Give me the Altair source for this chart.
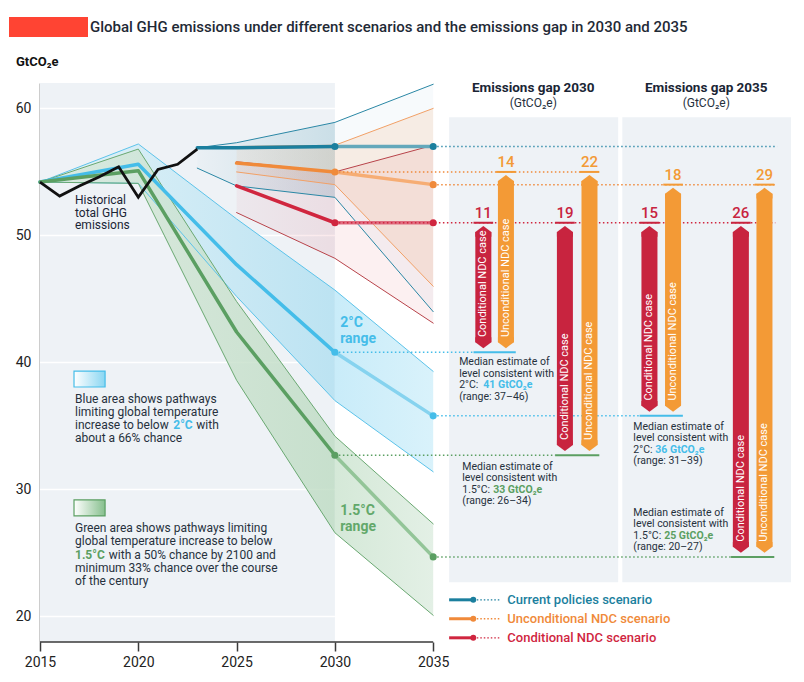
import altair as alt
import pandas as pd

# ---------------- data ----------------
hist_years = [2015, 2016, 2017, 2018, 2019, 2020, 2021, 2022, 2023]
hist_values = [54.2, 53.1, 53.9, 54.6, 55.4, 53.0, 55.2, 55.6, 56.8]

path_years = [2015, 2020, 2025, 2030, 2035]
c2_low = [54.2, 54.1, 45.2, 37.0, 31.4]
c2_median = [54.2, 55.6, 47.7, 40.8, 35.8]
c2_high = [54.2, 57.2, 51.3, 45.7, 39.3]
c15_low = [54.2, 54.1, 38.6, 26.6, 20.1]
c15_median = [54.2, 55.1, 42.4, 32.7, 24.7]
c15_high = [54.2, 56.8, 44.8, 34.2, 27.3]

cp_years = [2023, 2025, 2030, 2035]
cp_low = [55.3, 53.9, 53.0, 44.0]
cp_median = [56.9, 56.9, 57.0, 57.0]
cp_high = [56.9, 57.3, 58.9, 61.9]

ndc_years = [2025, 2030, 2035]
unc_low = [55.0, 54.0, 46.0]
unc_median = [55.7, 55.0, 54.0]
unc_high = [57.0, 57.1, 60.0]
con_low = [51.8, 48.2, 43.1]
con_median = [53.9, 51.0, 51.0]
con_high = [55.8, 55.0, 57.1]

gap_labels = ["11", "14", "19", "22", "15", "18", "26", "29"]
gap_cases = ["Conditional NDC case", "Unconditional NDC case"] * 4
gap_slots = [2037.55, 2038.7, 2041.7, 2042.95, 2046.0, 2047.2, 2050.65, 2051.85]

scenario_names = ["Current policies scenario", "Unconditional NDC scenario", "Conditional NDC scenario"]
axis_years = [2015, 2020, 2025, 2030, 2035]
axis_values = [20, 30, 40, 50, 60]

# ---------------- colours ----------------
TEAL, ORANGE, RED = "#1b7f9e", "#f08a3a", "#d0263f"
BLUE, GREEN = "#45bde9", "#5b9f62"
BAR_RED, BAR_ORANGE = "#c8243f", "#f39a36"
TXT = "#26313d"
BG = "#eef2f6"

# ---------------- scales / helpers ----------------
xs = alt.Scale(domain=[2015, 2053.2], nice=False, zero=False)
ys = alt.Scale(domain=[18, 62], nice=False, zero=False)
xax = alt.Axis(values=axis_years, format="d", grid=False, domain=False, tickSize=9,
               tickColor="#3a3a3a", tickWidth=1.5, labelFontSize=14, labelColor="#222",
               labelPadding=4, labelFlush=False, title=None)
yax = alt.Axis(values=axis_values, grid=False, ticks=False, domain=True, domainColor="#3a3a3a",
               domainWidth=1.5, labelFontSize=14, labelColor="#222", labelPadding=9, title=None)


def X(f):
    return alt.X(f, type="quantitative", scale=xs, axis=xax)


def Y(f):
    return alt.Y(f, type="quantitative", scale=ys, axis=yax)


def grad(c1, c2):
    return alt.Gradient(gradient="linear",
                        stops=[alt.GradientStop(color=c1, offset=0), alt.GradientStop(color=c2, offset=1)],
                        x1=0, x2=1, y1=0, y2=0)


def split(years, vals, cut=2030):
    a = [(x, v) for x, v in zip(years, vals) if x <= cut]
    b = [(x, v) for x, v in zip(years, vals) if x >= cut]
    return a, b


def band(years, lo, hi, fill, opacity=1.0):
    df = pd.DataFrame({"x": years, "lo": lo, "hi": hi})
    return alt.Chart(df).mark_area(color=fill, opacity=opacity).encode(
        x=X("x"), y=Y("lo"), y2=alt.Y2("hi"))


def band_parts(years, lo, hi, fa, fb, opacity=1.0):
    ya = [y for y in years if y <= 2030]
    yb = [y for y in years if y >= 2030]
    ia = [years.index(y) for y in ya]
    ib = [years.index(y) for y in yb]
    return [band(ya, [lo[i] for i in ia], [hi[i] for i in ia], fa, opacity),
            band(yb, [lo[i] for i in ib], [hi[i] for i in ib], fb, opacity)]


# ---------------- backgrounds ----------------
bg_df = pd.DataFrame({"x": [2015, 2035.81, 2044.62], "x2": [2030, 2044.41, 2053.2],
                      "y": [18, 22.7, 22.7], "y2": [62, 59.3, 59.3]})
bg = alt.Chart(bg_df).mark_rect(color=BG).encode(x=X("x"), x2="x2", y=Y("y"), y2="y2")

grid_df = pd.DataFrame({"y": axis_values, "x": 2015, "x2": 2030})
grid = alt.Chart(grid_df).mark_rule(color="white", strokeWidth=1.5).encode(x=X("x"), x2="x2", y=Y("y"))

xdomain = alt.Chart(pd.DataFrame({"x": [2015], "x2": [2035], "y": [18]})).mark_rule(
    color="#3a3a3a", strokeWidth=1.5).encode(x=X("x"), x2="x2", y=Y("y"))

# ---------------- bands ----------------
bands = []
bands += band_parts(path_years, c2_low, c2_high, grad("#e2f2f8", "#bce3f2"), grad("#c9ecf9", "#d9f2fb"))
bands += band_parts(path_years, c15_low, c15_high, grad("#d9e9dc", "#bddbc2"), grad("#cae3ce", "#dcecdf"), 0.8)
bands += band_parts(cp_years, cp_low, cp_high, grad("rgba(27,127,158,0.02)", "rgba(27,127,158,0.17)"),
                    "rgba(27,127,158,0.035)")
bands += band_parts(ndc_years, unc_low, unc_high, grad("rgba(240,138,58,0.07)", "rgba(240,138,58,0.15)"),
                    "rgba(240,138,58,0.12)")
bands += band_parts(ndc_years, con_low, con_high, grad("rgba(208,38,63,0.05)", "rgba(208,38,63,0.10)"),
                    "rgba(208,38,63,0.07)")

# ---------------- lines ----------------
rows = []


def add_line(name, years, vals, col, w):
    for x, v in zip(years, vals):
        rows.append({"id": name, "x": x, "y": v, "col": col, "w": w})


add_line("c2h", path_years, c2_high, "#5cc3ea", 1)
add_line("c2l", path_years, c2_low, "#5cc3ea", 1)
add_line("c15h", path_years, c15_high, "#6aa872", 1)
add_line("c15l", path_years, c15_low, "#6aa872", 1)
add_line("cph", cp_years, cp_high, "#2a87a5", 1)
add_line("cpl", cp_years, cp_low, "#2a87a5", 1)
add_line("unh", ndc_years, unc_high, "#f2a066", 1)
add_line("unl", ndc_years, unc_low, "#f2a066", 1)
add_line("coh", ndc_years, con_high, "#b8434a", 1)
add_line("col", ndc_years, con_low, "#b8434a", 1)
bounds_df = pd.DataFrame(rows)
rows = []
for name, years, vals, ca, cb in [
    ("c2m", path_years, c2_median, BLUE, "#86d3ef"),
    ("c15m", path_years, c15_median, GREEN, "#93c598"),
    ("cpm", cp_years, cp_median, TEAL, "#64a8bb"),
    ("unm", ndc_years, unc_median, ORANGE, "#f6ad74"),
    ("com", ndc_years, con_median, RED, "#df6d80"),
]:
    a, b = split(years, vals)
    add_line(name + "a", [p[0] for p in a], [p[1] for p in a], ca, 3.5)
    add_line(name + "b", [p[0] for p in b], [p[1] for p in b], cb, 3.5)
med_df = pd.DataFrame(rows)


def line_layer(df):
    return alt.Chart(df).mark_line(strokeCap="round", strokeJoin="round").encode(
        x=X("x"), y=Y("y"), detail="id:N", order="x:Q",
        color=alt.Color("col:N", scale=None), strokeWidth=alt.StrokeWidth("w:Q", scale=None))


bounds = line_layer(bounds_df)
meds = line_layer(med_df)

hist = alt.Chart(pd.DataFrame({"x": hist_years, "y": hist_values})).mark_line(
    color="#111111", strokeWidth=2.8, strokeJoin="miter").encode(x=X("x"), y=Y("y"))

dot_rows = []
for years, vals, col in [(path_years, c2_median, BLUE), (path_years, c15_median, GREEN),
                         (cp_years, cp_median, TEAL), (ndc_years, unc_median, ORANGE),
                         (ndc_years, con_median, RED)]:
    for yr in (2030, 2035):
        dot_rows.append({"x": yr, "y": vals[years.index(yr)], "col": col})
dots = alt.Chart(pd.DataFrame(dot_rows)).mark_point(filled=True, size=50, opacity=1).encode(
    x=X("x"), y=Y("y"), color=alt.Color("col:N", scale=None))

# ---------------- dotted guides ----------------
i30, i35 = path_years.index(2030), path_years.index(2035)
guides = pd.DataFrame([
    {"x": 2035, "x2": 2052.5, "y": cp_median[3], "col": "#3a91ad"},
    {"x": 2030, "x2": 2042.5, "y": unc_median[1], "col": ORANGE},
    {"x": 2035, "x2": 2052.4, "y": unc_median[2], "col": ORANGE},
    {"x": 2030, "x2": 2052.4, "y": con_median[1], "col": RED},
    {"x": 2030, "x2": gap_slots[0] - 0.5, "y": c2_median[i30], "col": BLUE},
    {"x": 2035, "x2": gap_slots[4] - 0.5, "y": c2_median[i35], "col": BLUE},
    {"x": 2030, "x2": gap_slots[2] - 0.5, "y": c15_median[i30], "col": GREEN},
    {"x": 2035, "x2": gap_slots[6] - 0.5, "y": c15_median[i35], "col": GREEN},
])
guide_layer = alt.Chart(guides).mark_rule(strokeWidth=1.5, strokeDash=[1.5, 2.5]).encode(
    x=X("x"), x2="x2", y=Y("y"), color=alt.Color("col:N", scale=None))

targets = pd.DataFrame([
    {"x": gap_slots[0] - 0.5, "x2": gap_slots[1] + 0.5, "y": c2_median[i30], "col": BLUE},
    {"x": gap_slots[2] - 0.5, "x2": gap_slots[3] + 0.5, "y": c15_median[i30], "col": GREEN},
    {"x": gap_slots[4] - 0.5, "x2": gap_slots[5] + 0.5, "y": c2_median[i35], "col": BLUE},
    {"x": gap_slots[6] - 0.5, "x2": gap_slots[7] + 0.5, "y": c15_median[i35], "col": GREEN},
])
target_layer = alt.Chart(targets).mark_rule(strokeWidth=2).encode(
    x=X("x"), x2="x2", y=Y("y"), color=alt.Color("col:N", scale=None))

# ---------------- gap bars ----------------
tops = [con_median[1], unc_median[1], con_median[1], unc_median[1],
        con_median[2], unc_median[2], con_median[2], unc_median[2]]
bottoms = [c2_median[i30]] * 2 + [c15_median[i30]] * 2 + [c2_median[i35]] * 2 + [c15_median[i35]] * 2
bars = pd.DataFrame({"x": gap_slots, "top": tops, "bottom": bottoms, "label": gap_labels, "case": gap_cases})
bars["col"] = [BAR_RED if c.startswith("Cond") else BAR_ORANGE for c in gap_cases]
bars["st"] = bars["top"] - 0.72
bars["sb"] = bars["bottom"] + 0.8
bars["ty"] = bars["bottom"] + 1.2
bars["u0"] = bars["x"] - 0.5
bars["u1"] = bars["x"] + 0.5
bcol = alt.Color("col:N", scale=None)
bar_body = alt.Chart(bars).mark_rule(strokeWidth=16, strokeCap="butt").encode(
    x=X("x"), y=Y("sb"), y2="st", color=bcol)
cap_top = alt.Chart(bars).mark_point(shape="M-1,0.6L-1,0L0,-0.75L1,0L1,0.6Z", size=256, filled=True,
                                     opacity=1, strokeWidth=0).encode(x=X("x"), y=Y("st"), color=bcol)
cap_bot = alt.Chart(bars).mark_point(shape="M-1,-0.6L-1,0L0,0.75L1,0L1,-0.6Z", size=256, filled=True,
                                     opacity=1, strokeWidth=0).encode(x=X("x"), y=Y("sb"), color=bcol)
bar_text = alt.Chart(bars).mark_text(angle=270, align="left", baseline="middle", color="white",
                                     fontSize=11).encode(x=X("x"), y=Y("ty"), text="case:N")
bar_num = alt.Chart(bars).mark_text(align="center", baseline="alphabetic", dy=-5, fontSize=15,
                                    fontWeight=500).encode(x=X("x"), y=Y("top"), text="label:N", color=bcol)
bar_ul = alt.Chart(bars).mark_rule(strokeWidth=2).encode(x=X("u0"), x2="u1", y=Y("top"), color=bcol)

# ---------------- text annotations ----------------
def texts(rows, **props):
    df = pd.DataFrame(rows, columns=["x", "y", "t", "col"])
    base = dict(align="left", baseline="middle")
    base.update(props)
    return alt.Chart(df).mark_text(**base).encode(
        x=X("x"), y=Y("y"), text="t:N", color=alt.Color("col:N", scale=None))


panel_normal = texts([
    (2036.32, 40.03, "Median estimate of", TXT), (2036.32, 39.13, "level consistent with", TXT),
    (2036.32, 38.22, "2°C:", TXT), (2036.32, 37.32, "(range: 37–46)", TXT),
    (2036.48, 31.78, "Median estimate of", TXT), (2036.48, 30.87, "level consistent with", TXT),
    (2036.48, 29.97, "1.5°C:", TXT), (2036.48, 29.06, "(range: 26–34)", TXT),
    (2045.18, 34.92, "Median estimate of", TXT), (2045.18, 34.02, "level consistent with", TXT),
    (2045.18, 33.11, "2°C:", TXT), (2045.18, 32.21, "(range: 31–39)", TXT),
    (2045.18, 28.16, "Median estimate of", TXT), (2045.18, 27.26, "level consistent with", TXT),
    (2045.18, 26.35, "1.5°C:", TXT), (2045.18, 25.45, "(range: 20–27)", TXT),
], fontSize=10.5)
panel_bold = texts([
    (2037.55, 38.22, "41 GtCO₂e", BLUE), (2038.05, 29.97, "33 GtCO₂e", GREEN),
    (2046.30, 33.11, "36 GtCO₂e", BLUE), (2046.75, 26.35, "25 GtCO₂e", GREEN),
], fontSize=10.5, fontWeight="bold")

left_normal = texts([
    (2016.78, 52.77, "Historical", "#1a2535"), (2016.78, 51.78, "total GHG", "#1a2535"),
    (2016.78, 50.80, "emissions", "#1a2535"),
    (2016.78, 37.12, "Blue area shows pathways", TXT), (2016.78, 36.10, "limiting global temperature", TXT),
    (2016.78, 35.08, "increase to below", TXT), (2022.95, 35.08, "with", TXT),
    (2016.78, 34.06, "about a 66% chance", TXT),
    (2016.78, 26.98, "Green area shows pathways limiting", TXT),
    (2016.78, 25.96, "global temperature increase to below", TXT),
    (2018.50, 24.86, "with a 50% chance by 2100 and", TXT),
    (2016.78, 23.84, "minimum 33% chance over the course", TXT),
    (2016.78, 22.81, "of the century", TXT),
], fontSize=12)
left_bold = texts([
    (2021.78, 35.08, "2°C", BLUE), (2016.78, 24.86, "1.5°C", GREEN),
], fontSize=12, fontWeight="bold")

range_lbl = texts([
    (2030.27, 43.10, "2°C", BLUE), (2030.27, 41.86, "range", BLUE),
    (2030.27, 28.30, "1.5°C", "#62a86a"), (2030.27, 27.06, "range", "#62a86a"),
], fontSize=14, fontWeight="bold")

heads = texts([
    (2040.09, 61.57, "Emissions gap 2030", "#1a2535"), (2048.89, 61.57, "Emissions gap 2035", "#1a2535"),
], align="center", fontSize=13.5, fontWeight="bold")
subheads = texts([
    (2040.09, 60.39, "(GtCO₂e)", TXT), (2048.89, 60.39, "(GtCO₂e)", TXT),
], align="center", fontSize=12)

# swatches
sw = pd.DataFrame({"x": [2016.73], "x2": [2018.31], "y": [38.07], "y2": [39.32]})
sw_blue = alt.Chart(sw).mark_rect(color=grad("#ffffff", "#8ad6f2"), stroke=BLUE, strokeWidth=1.2).encode(
    x=X("x"), x2="x2", y=Y("y"), y2="y2")
sw2 = pd.DataFrame({"x": [2016.73], "x2": [2018.31], "y": [27.92], "y2": [29.18]})
sw_green = alt.Chart(sw2).mark_rect(color=grad("#ffffff", "#86bf8d"), stroke=GREEN, strokeWidth=1.2).encode(
    x=X("x"), x2="x2", y=Y("y"), y2="y2")

# ---------------- legend ----------------
leg = pd.DataFrame({"name": scenario_names, "y": [21.32, 19.83, 18.33], "col": [TEAL, ORANGE, RED],
                    "x0": 2035.81, "x1": 2037.04, "x2": 2038.41, "xt": 2038.77})
lcol = alt.Color("col:N", scale=None)
leg_solid = alt.Chart(leg).mark_rule(strokeWidth=3).encode(x=X("x0"), x2="x1", y=Y("y"), color=lcol)
leg_dot = alt.Chart(leg).mark_point(filled=True, size=35, opacity=1).encode(x=X("x1"), y=Y("y"), color=lcol)
leg_dash = alt.Chart(leg).mark_rule(strokeWidth=1.3, strokeDash=[1.5, 2]).encode(
    x=X("x1"), x2="x2", y=Y("y"), color=lcol)
leg_txt = alt.Chart(leg).mark_text(align="left", baseline="middle", fontSize=13, fontWeight=500).encode(
    x=X("xt"), y=Y("y"), text="name:N", color=lcol)

# ---------------- title ----------------
one = pd.DataFrame({"a": [0]})
red_box = alt.Chart(one).mark_rect(color="#ff4433").encode(
    x=alt.value(-31), x2=alt.value(48), y=alt.value(-66), y2=alt.value(-46))
title = alt.Chart(one).mark_text(align="left", baseline="middle", fontSize=15, fontWeight=500,
                                 color="#1f2a36").encode(
    x=alt.value(50), y=alt.value(-56),
    text=alt.value("Global GHG emissions under different scenarios and the emissions gap in 2030 and 2035"))
ylabel = alt.Chart(one).mark_text(align="left", baseline="middle", fontSize=13, fontWeight="bold",
                                  color="#111").encode(
    x=alt.value(-24), y=alt.value(-21), text=alt.value("GtCO₂e"))

layers = [bg, grid] + bands + [bounds, meds, hist, guide_layer, target_layer, dots,
                               bar_body, cap_top, cap_bot, bar_text, bar_num, bar_ul,
                               panel_normal, panel_bold, left_normal, left_bold, range_lbl,
                               heads, subheads, sw_blue, sw_green,
                               leg_solid, leg_dash, leg_dot, leg_txt, xdomain,
                               red_box, title, ylabel]

chart = alt.layer(*layers).properties(
    width=751, height=559,
    autosize=alt.AutoSizeParams(type="none"),
    padding={"left": 32, "top": 75, "right": 5, "bottom": 30},
).configure(font="Roboto").configure_view(stroke=None)

chart.save("out.html", embed_options={"renderer": "svg", "actions": False})
